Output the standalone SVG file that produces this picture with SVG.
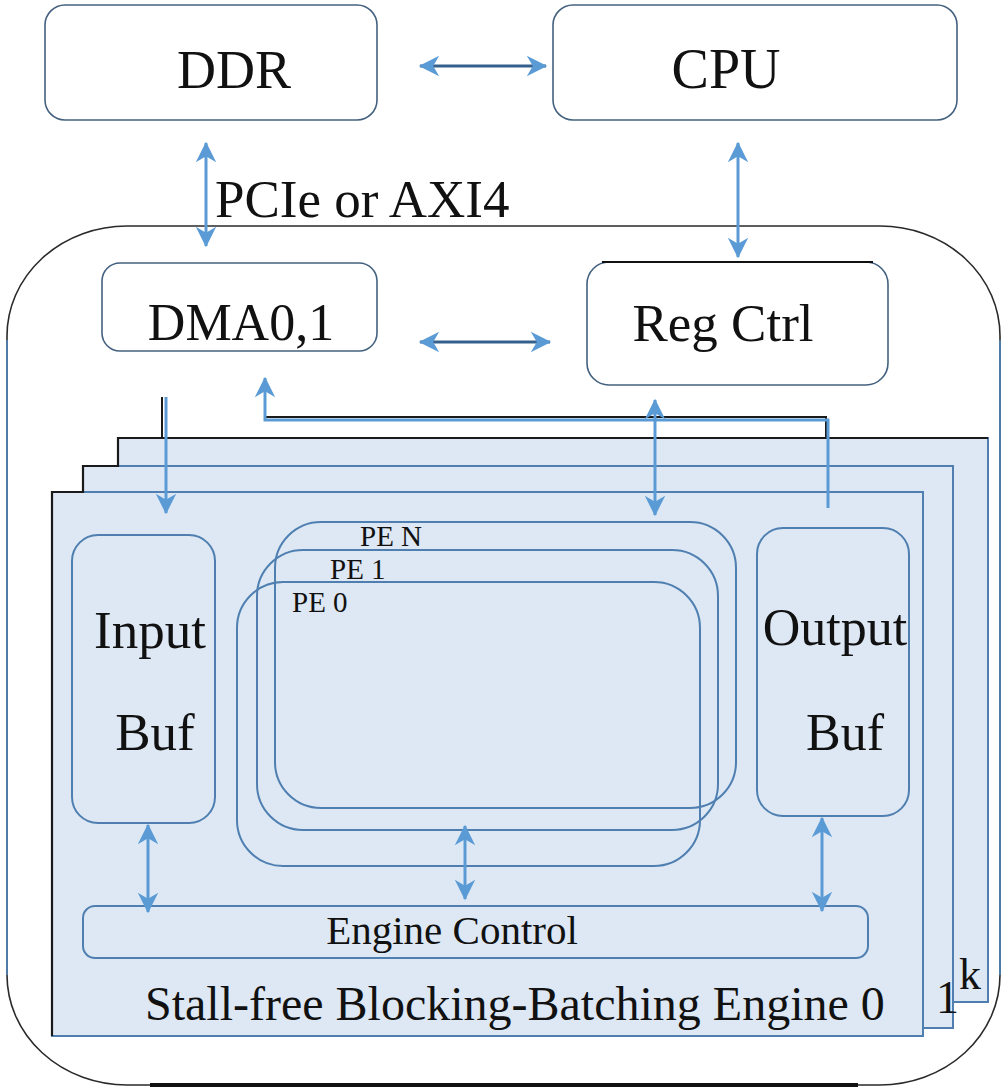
<svg xmlns="http://www.w3.org/2000/svg" width="1003" height="1091" viewBox="0 0 1003 1091">
  <style>
    .t { font-family: "Liberation Serif", "Times New Roman", serif; fill: #111; }
    .box { fill: #fff; stroke: #44617f; stroke-width: 1.6; }
    .inner { fill: none; stroke: #4f7fb0; stroke-width: 2; }
    .plane { fill: #dde8f4; stroke: #4f7fb0; stroke-width: 2; }
    .wire { fill: none; stroke: #5b9bd5; stroke-width: 3; }
    .wire-dark { fill: none; stroke: #35608c; stroke-width: 3; }
    .shadow { fill: none; stroke: #1a1a1a; stroke-width: 2; }
  </style>
  <defs>
    <marker id="head" markerUnits="userSpaceOnUse" markerWidth="24" markerHeight="24" viewBox="0 0 20 20" refX="17" refY="10" orient="auto-start-reverse">
      <path d="M1,1.5 L18,10 L1,18.5 L6,10 z" fill="#5b9bd5"/>
    </marker>
  </defs>

  <!-- accelerator enclosure -->
  <g id="accelerator">
    <rect x="7" y="226" width="993" height="859" rx="120" ry="110" fill="none" stroke="#2a2a2a" stroke-width="1.6"/>
    <line x1="7" y1="340" x2="7" y2="975" stroke="#4f7fb0" stroke-width="1.8"/>
    <line x1="1000" y1="340" x2="1000" y2="975" stroke="#4f7fb0" stroke-width="1.8"/>
    <line x1="150" y1="1085" x2="858" y2="1085" stroke="#111" stroke-width="4"/>
  </g>

  <!-- host side -->
  <g id="ddr">
    <rect class="box" x="45" y="5" width="332" height="115" rx="20"/>
    <text class="t" x="234" y="88" font-size="54" text-anchor="middle">DDR</text>
  </g>
  <g id="cpu">
    <rect class="box" x="553" y="5" width="404" height="115" rx="20"/>
    <text class="t" x="726" y="88" font-size="56" text-anchor="middle">CPU</text>
  </g>
  <text class="t" x="215" y="217" font-size="53">PCIe or AXI4</text>

  <g id="dma">
    <rect class="box" x="102" y="263" width="275" height="88" rx="18"/>
    <text class="t" x="241" y="340" font-size="52" text-anchor="middle">DMA0,1</text>
  </g>
  <g id="reg-ctrl">
    <rect class="box" x="587" y="262" width="301" height="123" rx="22"/>
    <line x1="602" y1="262" x2="873" y2="262" stroke="#111" stroke-width="2"/>
    <text class="t" x="723" y="341" font-size="53" text-anchor="middle">Reg Ctrl</text>
  </g>

  <!-- engine copies 0..k -->
  <g id="engine-k">
    <rect class="plane" x="118" y="438" width="870" height="564"/>
    <text class="t" x="959" y="989" font-size="44">k</text>
  </g>
  <g id="engine-1">
    <rect class="plane" x="83" y="466" width="870" height="562"/>
    <text class="t" x="936" y="1013" font-size="46">1</text>
  </g>
  <g id="engine-0">
    <rect class="plane" x="52" y="492" width="871" height="544"/>
    <text class="t" x="145" y="1020" font-size="48">Stall-free Blocking-Batching Engine 0</text>
  </g>
  <polyline points="52,1036 52,492 83,492 83,466 118,466 118,438 988,438" fill="none" stroke="#1a1a1a" stroke-width="2.2"/>

  <g id="input-buf">
    <rect class="inner" x="72" y="535" width="143" height="288" rx="26"/>
    <text class="t" x="150" y="648" font-size="53" text-anchor="middle">Input</text>
    <text class="t" x="155" y="750" font-size="53" text-anchor="middle">Buf</text>
  </g>
  <g id="output-buf">
    <rect class="inner" x="757" y="528" width="152" height="288" rx="26"/>
    <text class="t" x="835" y="645" font-size="52" text-anchor="middle">Output</text>
    <text class="t" x="845" y="750" font-size="52" text-anchor="middle">Buf</text>
  </g>

  <g id="pe-n">
    <rect class="inner" x="275" y="522" width="461" height="286" rx="46"/>
    <text class="t" x="360" y="546" font-size="29">PE N</text>
  </g>
  <g id="pe-1">
    <rect class="inner" x="257" y="550" width="461" height="280" rx="46"/>
    <text class="t" x="330" y="579" font-size="29">PE 1</text>
  </g>
  <g id="pe-0">
    <rect class="inner" x="237" y="582" width="463" height="284" rx="46"/>
    <text class="t" x="292" y="612" font-size="29">PE 0</text>
  </g>

  <g id="engine-control">
    <rect class="inner" x="83" y="906" width="785" height="52" rx="12"/>
    <text class="t" x="452" y="944" font-size="41" text-anchor="middle">Engine Control</text>
  </g>

  <!-- connectors -->
  <g id="connectors">
    <line class="wire-dark" x1="420" y1="66" x2="546" y2="66" marker-start="url(#head)" marker-end="url(#head)"/>
    <line class="wire" x1="206" y1="143" x2="206" y2="246" marker-start="url(#head)" marker-end="url(#head)"/>
    <line class="wire" x1="738" y1="143" x2="738" y2="257" marker-start="url(#head)" marker-end="url(#head)"/>
    <line class="wire-dark" x1="420" y1="342" x2="550" y2="342" marker-start="url(#head)" marker-end="url(#head)"/>

    <line class="shadow" x1="162" y1="397" x2="162" y2="438"/>
    <line class="wire" x1="166" y1="397" x2="166" y2="513" marker-end="url(#head)"/>

    <polyline class="shadow" points="265,417 826,417 826,437"/>
    <polyline class="wire" points="828,508 828,420 265,420 265,378" marker-end="url(#head)"/>

    <line class="wire" x1="655" y1="400" x2="655" y2="515" marker-start="url(#head)" marker-end="url(#head)"/>
    <line class="wire" x1="148" y1="825" x2="148" y2="912" marker-start="url(#head)" marker-end="url(#head)"/>
    <line class="wire" x1="465" y1="826" x2="465" y2="899" marker-start="url(#head)" marker-end="url(#head)"/>
    <line class="wire" x1="822" y1="818" x2="822" y2="911" marker-start="url(#head)" marker-end="url(#head)"/>
  </g>
</svg>
